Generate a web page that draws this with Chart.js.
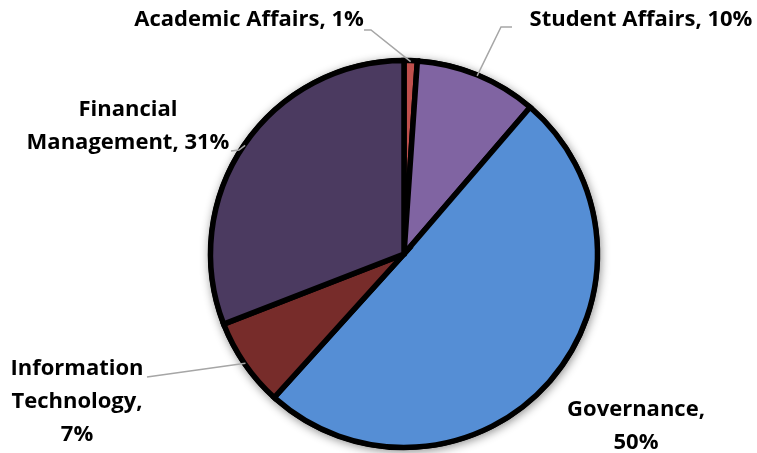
<!DOCTYPE html>
<html>
<head>
<meta charset="utf-8">
<script src="https://cdn.jsdelivr.net/npm/chart.js@4.4.1/dist/chart.umd.min.js"></script>
<style>
html,body{margin:0;padding:0;background:#fff;}
#wrap{width:757px;height:453px;position:relative;}
</style>
</head>
<body>
<div id="wrap"><canvas id="c" width="757" height="453"></canvas></div>
<script>
const categories = ["Academic Affairs", "Student Affairs", "Governance", "Information Technology", "Financial Management"];
const shares = [1.1, 10.2, 50.4, 7.4, 30.9];
const colors = ["#C0504D", "#8064A2", "#558ED5", "#772C2A", "#4B3A60"];

// label text lines (the last line gets the percentage appended by the plugin)
const labelLines = [
  ["Academic Affairs, "],
  ["Student Affairs, "],
  ["Governance,", ""],
  ["Information", "Technology,", ""],
  ["Financial", "Management, "]
];

// label layout: centre x, first-line centre y, elbow points of leader line
const labelLayout = [
  {x: 249, y: 20, elbow: [[364, 30], [371, 30]]},
  {x: 641, y: 20, elbow: [[512, 27], [501, 27]]},
  {x: 636, y: 410, elbow: null},
  {x: 77, y: 369, elbow: [[147, 377]]},
  {x: 128, y: 110, elbow: [[231, 151], [239, 150]]}
];

const shadowPlugin = {
  id: 'pieShadow',
  beforeDatasetsDraw(chart) {
    const arc = chart.getDatasetMeta(0).data[0];
    if (!arc) return;
    const ctx = chart.ctx;
    ctx.save();
    ctx.shadowColor = 'rgba(0,0,0,0.45)';
    ctx.shadowBlur = 10;
    ctx.shadowOffsetX = 1;
    ctx.shadowOffsetY = 2;
    ctx.fillStyle = '#000';
    ctx.beginPath();
    ctx.arc(arc.x, arc.y, arc.outerRadius + 2.5, 0, Math.PI * 2);
    ctx.fill();
    ctx.restore();
  }
};

const labelPlugin = {
  id: 'pieLabels',
  afterDatasetsDraw(chart) {
    const ctx = chart.ctx;
    const meta = chart.getDatasetMeta(0);
    const total = shares.reduce((a, b) => a + b, 0);
    ctx.save();
    meta.data.forEach((arc, i) => {
      const lay = labelLayout[i];
      const mid = (arc.startAngle + arc.endAngle) / 2;
      const r = arc.outerRadius - 1;
      const px = arc.x + Math.cos(mid) * r;
      const py = arc.y + Math.sin(mid) * r;
      if (lay.elbow) {
        ctx.strokeStyle = '#A6A6A6';
        ctx.lineWidth = 1.5;
        ctx.beginPath();
        ctx.moveTo(lay.elbow[0][0], lay.elbow[0][1]);
        for (let k = 1; k < lay.elbow.length; k++) ctx.lineTo(lay.elbow[k][0], lay.elbow[k][1]);
        ctx.lineTo(px, py);
        ctx.stroke();
      }
      const pct = Math.round(shares[i] / total * 100) + '%';
      const lines = labelLines[i].slice();
      lines[lines.length - 1] = lines[lines.length - 1] + pct;
      ctx.fillStyle = '#000';
      ctx.font = 'bold 22px "Open Sans"';
      ctx.textAlign = 'center';
      ctx.textBaseline = 'middle';
      lines.forEach((t, k) => ctx.fillText(t, lay.x, lay.y + k * 33));
    });
    ctx.restore();
  }
};

new Chart(document.getElementById('c'), {
  type: 'pie',
  data: {
    labels: categories,
    datasets: [{
      data: shares,
      backgroundColor: colors,
      borderColor: '#000',
      borderWidth: 5.5,
      borderJoinStyle: 'miter'
    }]
  },
  options: {
    responsive: false,
    animation: false,
    radius: 193.5,
    layout: {padding: {left: 51, right: 0, top: 55, bottom: 0}},
    plugins: {legend: {display: false}, tooltip: {enabled: false}}
  },
  plugins: [shadowPlugin, labelPlugin]
});
</script>
</body>
</html>
